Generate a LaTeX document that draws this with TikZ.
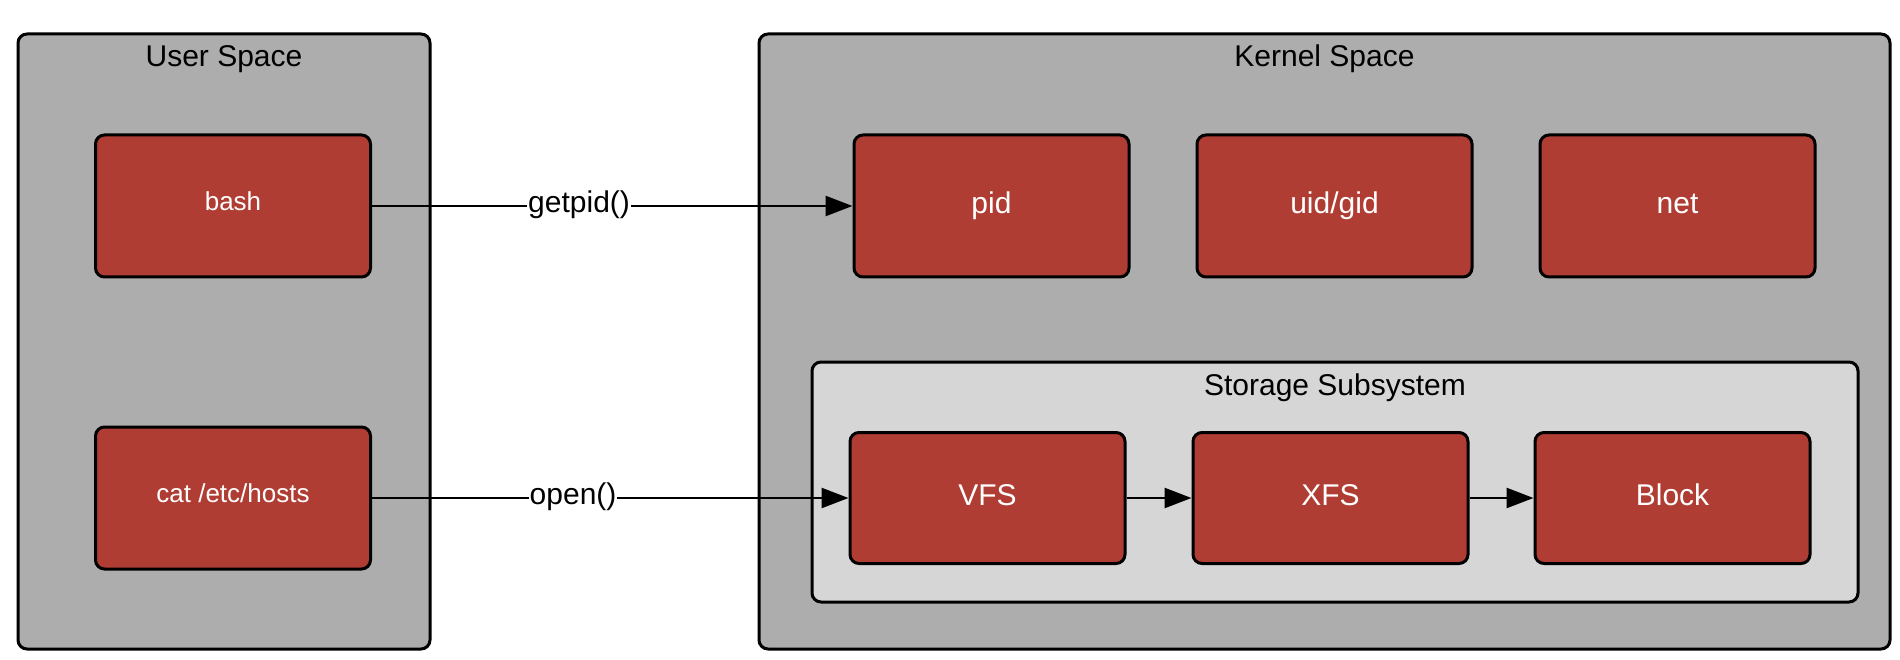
\documentclass[tikz,border=0pt]{standalone}
\usepackage{fontspec}
\setmainfont{Liberation Sans}
\usetikzlibrary{arrows.meta}
\definecolor{panelgray}{HTML}{ADADAD}
\definecolor{subgray}{HTML}{D6D6D6}
\definecolor{boxred}{HTML}{B03D33}
\begin{document}
\begin{tikzpicture}[x=1pt,y=-1pt,
  container/.style={draw=black, line width=3pt, rounded corners=9pt, fill=panelgray,
    inner sep=0pt},
  subcontainer/.style={container, fill=subgray},
  heading/.style={anchor=base, inner sep=0pt, font=\fontsize{30}{36}\selectfont},
  unit/.style={draw=black, line width=3pt, rounded corners=9pt, fill=boxred, text=white,
    minimum width=275pt, minimum height=142pt, inner sep=0pt,
    font=\fontsize{30}{36}\selectfont, text height=15pt, text depth=0pt},
  userunit/.style={unit, font=\fontsize{26}{31}\selectfont, text height=9pt},
  fsunit/.style={unit, minimum height=131pt},
  conn/.style={draw=black, line width=2.5pt, -{Triangle[length=27pt,width=20pt]}},
  call/.style={fill=white, inner sep=1pt, text=black, font=\fontsize{30}{36}\selectfont,
    text height=20pt, text depth=7pt}
]
\useasboundingbox (0,0) rectangle (1900,660);

% outer panels
\node[container, minimum width=412pt, minimum height=615pt] (user) at (224,341.5) {};
\node[heading] (usertitle) at (224,67) {User Space};
\node[container, minimum width=1131pt, minimum height=615pt] (kernel) at (1324.5,341.5) {};
\node[heading] (kerneltitle) at (1324.5,67) {Kernel Space};

% storage subsystem panel
\node[subcontainer, minimum width=1046pt, minimum height=240pt] (storage) at (1335,482) {};
\node[heading] (storagetitle) at (1335,395) {Storage Subsystem};

% user-space processes
\node[userunit] (bash) at (233,206) {bash};
\node[userunit] (cat) at (233,498) {cat /etc/hosts};

% kernel namespaces
\node[unit] (pid) at (991.5,206) {pid};
\node[unit] (uidgid) at (1334.5,206) {uid/gid};
\node[unit] (net) at (1677.5,206) {net};

% storage stack
\node[fsunit] (vfs) at (987.5,498) {VFS};
\node[fsunit] (xfs) at (1330.5,498) {XFS};
\node[fsunit] (block) at (1672.5,498) {Block};

% system calls
\draw[conn] (bash) -- node[call, pos=0.431] {getpid()} (pid);
\draw[conn] (cat) -- node[call, pos=0.422] {open()} (vfs);
\draw[conn] (vfs) -- (xfs);
\draw[conn] (xfs) -- (block);
\end{tikzpicture}
\end{document}
